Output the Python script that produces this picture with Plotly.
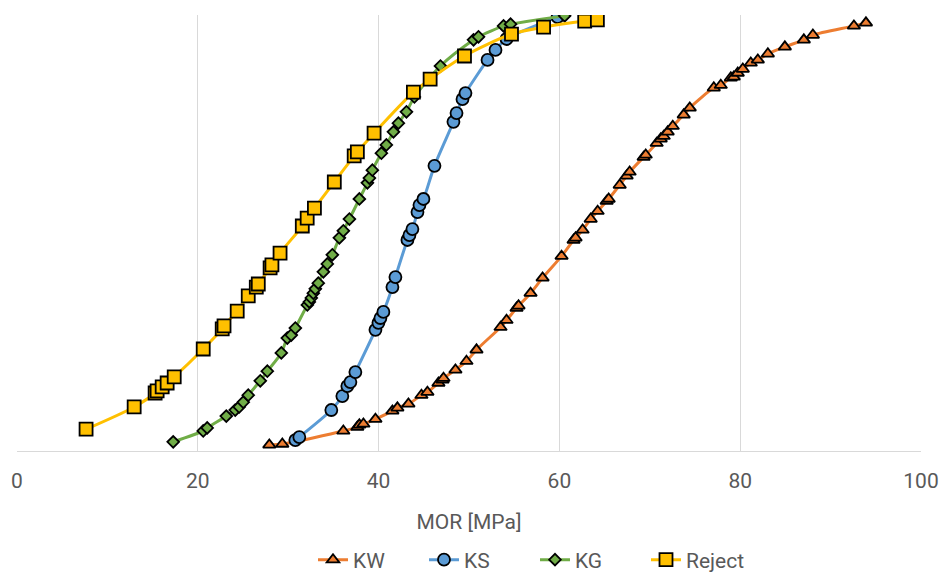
import plotly.graph_objects as go

# MOR [MPa] and cumulative probability for each grade
kw_mor = [27.91, 29.35, 36.10, 37.65, 37.87, 38.32, 39.65, 41.53, 42.08, 43.30,
          44.74, 45.40, 46.62, 47.07, 47.18, 48.50, 49.72, 50.83, 53.49, 54.15,
          55.26, 55.48, 56.81, 58.14, 60.24, 61.57, 61.79, 62.57, 63.46, 64.23,
          65.23, 65.45, 66.67, 67.44, 67.77, 69.32, 69.55, 70.76, 71.21, 71.54,
          71.98, 72.54, 73.75, 74.42, 77.08, 77.85, 78.96, 79.29, 79.73, 80.29,
          81.17, 81.95, 83.06, 84.94, 87.04, 88.04, 92.58, 93.91]
kw_p = [0.014, 0.016, 0.046, 0.055, 0.060, 0.062, 0.073, 0.092, 0.099, 0.108,
        0.128, 0.135, 0.156, 0.163, 0.167, 0.186, 0.206, 0.232, 0.284, 0.300,
        0.328, 0.333, 0.362, 0.397, 0.447, 0.484, 0.489, 0.507, 0.532, 0.550,
        0.573, 0.578, 0.610, 0.631, 0.640, 0.674, 0.679, 0.706, 0.716, 0.722,
        0.732, 0.745, 0.771, 0.787, 0.833, 0.839, 0.856, 0.858, 0.867, 0.876,
        0.890, 0.897, 0.911, 0.927, 0.943, 0.954, 0.975, 0.982]

ks_mor = [30.79, 31.23, 34.77, 35.99, 36.54, 36.88, 37.43, 39.65, 39.98, 40.20,
          40.53, 41.53, 41.86, 43.19, 43.41, 43.74, 44.30, 44.52, 44.96, 46.18,
          48.28, 48.62, 49.28, 49.61, 52.05, 52.93, 54.15, 59.80]
ks_p = [0.025, 0.032, 0.094, 0.126, 0.149, 0.158, 0.181, 0.278, 0.294, 0.305,
        0.319, 0.376, 0.399, 0.484, 0.495, 0.509, 0.548, 0.564, 0.578, 0.654,
        0.755, 0.775, 0.807, 0.821, 0.897, 0.920, 0.945, 0.995]

kg_mor = [17.28, 20.60, 21.04, 23.15, 24.14, 24.58, 25.03, 25.58, 26.91, 27.69,
          29.24, 29.90, 30.34, 30.79, 32.12, 32.34, 32.56, 32.78, 33.00, 33.33,
          33.89, 34.33, 34.88, 35.66, 36.10, 36.77, 37.87, 38.76, 38.98, 39.31,
          40.31, 40.86, 41.64, 42.19, 43.08, 43.96, 46.84, 50.50, 51.05, 53.82,
          54.60, 60.58]
kg_p = [0.021, 0.046, 0.053, 0.080, 0.094, 0.101, 0.112, 0.128, 0.161, 0.183,
        0.225, 0.259, 0.266, 0.282, 0.335, 0.342, 0.351, 0.362, 0.372, 0.385,
        0.411, 0.429, 0.450, 0.489, 0.505, 0.532, 0.578, 0.615, 0.626, 0.644,
        0.683, 0.702, 0.732, 0.752, 0.778, 0.812, 0.883, 0.943, 0.950, 0.975,
        0.979, 0.998]

rej_mor = [7.64, 12.96, 15.28, 15.50, 16.06, 16.61, 17.39, 20.60, 22.70, 22.90,
           24.36, 25.58, 26.47, 26.69, 28.00, 28.20, 29.10, 31.56, 32.10, 32.90,
           35.10, 37.30, 37.65, 39.50, 43.85, 45.70, 49.50, 54.70, 58.25, 62.80,
           64.20]
rej_p = [0.050, 0.101, 0.133, 0.138, 0.147, 0.156, 0.170, 0.234, 0.280, 0.287,
         0.321, 0.356, 0.376, 0.383, 0.420, 0.427, 0.454, 0.516, 0.534, 0.557,
         0.617, 0.677, 0.686, 0.729, 0.823, 0.853, 0.906, 0.956, 0.972, 0.986,
         0.989]

x_ticks = [0, 20, 40, 60, 80, 100]

series = [
    ("KW", kw_mor, kw_p, "#ED7D31", "triangle-up", 11),
    ("KS", ks_mor, ks_p, "#5B9BD5", "circle", 12),
    ("KG", kg_mor, kg_p, "#70AD47", "diamond", 9),
    ("Reject", rej_mor, rej_p, "#FFC000", "square", 13),
]

fig = go.Figure()
for name, xs, ys, color, symbol, size in series:
    fig.add_trace(go.Scatter(
        x=xs, y=ys, name=name, mode="lines+markers",
        line=dict(color=color, width=3, shape="spline", smoothing=0.8),
        marker=dict(symbol=symbol, size=size, color=color,
                    line=dict(color="black", width=1.8)),
    ))

font_family = "Roboto, Liberation Sans, sans-serif"
fig.update_layout(
    width=941, height=572,
    margin=dict(l=17, r=20, t=15, b=121, autoexpand=False),
    paper_bgcolor="white", plot_bgcolor="white",
    font=dict(family=font_family, size=21, color="#595959"),
    showlegend=True,
    legend=dict(orientation="h", xref="container", x=313 / 941, xanchor="left",
                yref="container", y=0.021, yanchor="middle",
                font=dict(size=21, color="#595959"),
                itemwidth=30, entrywidth=66, entrywidthmode="pixels",
                tracegroupgap=0),
    xaxis=dict(range=[0, 100], tickvals=x_ticks, showgrid=True,
               gridcolor="#d9d9d9", gridwidth=1.3, zeroline=False,
               showline=True, linecolor="#d9d9d9", linewidth=1.3,
               ticks="", ticklabelstandoff=11, automargin=False,
               title=dict(text="MOR [MPa]", standoff=21,
                          font=dict(size=21, color="#595959"))),
    yaxis=dict(range=[0, 1], visible=False, showgrid=False),
)

fig.write_html("out.html")
